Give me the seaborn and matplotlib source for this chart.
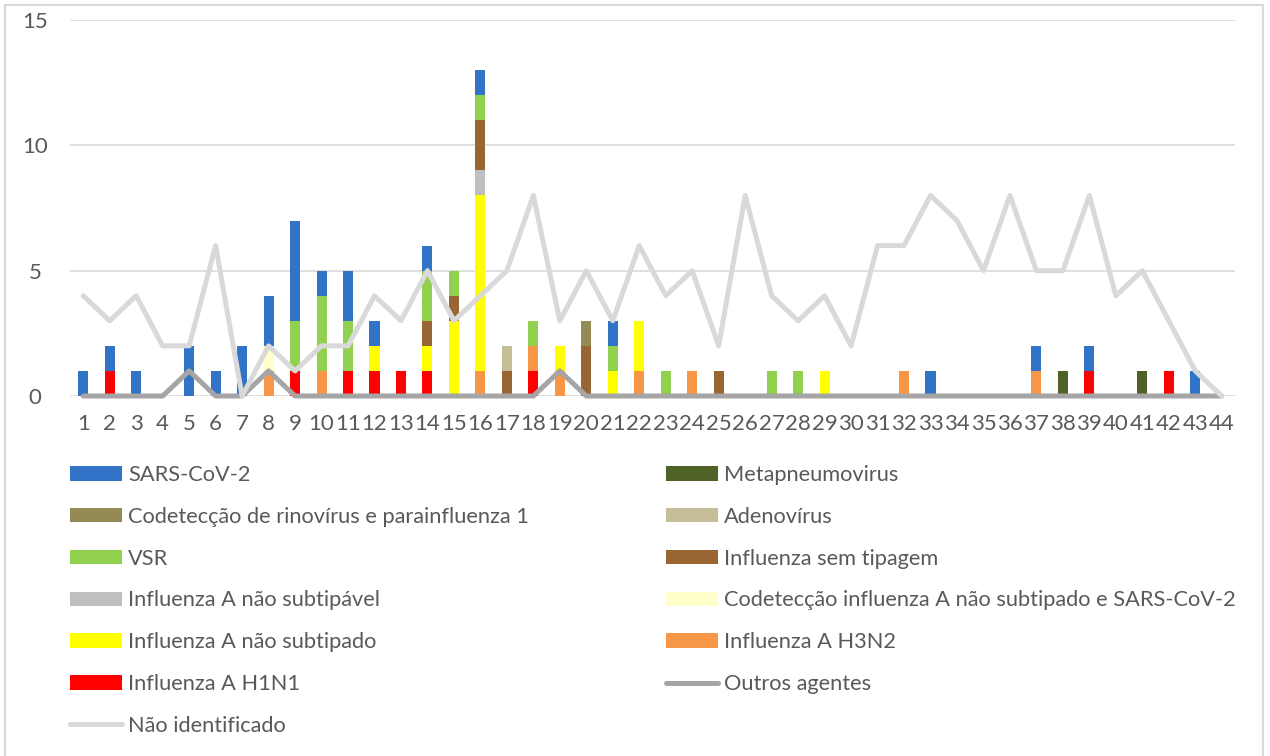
import matplotlib
matplotlib.use("Agg")
import matplotlib.pyplot as plt
from matplotlib.patches import Patch, Rectangle
from matplotlib.lines import Line2D
import numpy as np
import pandas as pd
import seaborn as sns

# Epidemiological weeks
weeks = list(range(1, 45))

# Weekly detections per agent (weeks 1..44)
sars_cov_2 = [1, 1, 1, 0, 2, 1, 2, 2, 4, 1, 2, 1, 0, 1, 0, 1, 0, 0, 0, 0, 1, 0,
              0, 0, 0, 0, 0, 0, 0, 0, 0, 0, 1, 0, 0, 0, 1, 0, 1, 0, 0, 0, 1, 0]
metapneumovirus = [0] * 37 + [1, 0, 0, 1, 0, 0, 0]
rino_parainfluenza = [0] * 19 + [1] + [0] * 24
adenovirus = [0] * 16 + [1] + [0] * 27
vsr = [0, 0, 0, 0, 0, 0, 0, 0, 2, 3, 2, 0, 0, 2, 1, 1, 0, 1, 0, 0, 1, 0,
       1, 0, 0, 0, 1, 1, 0, 0, 0, 0, 0, 0, 0, 0, 0, 0, 0, 0, 0, 0, 0, 0]
flu_sem_tipagem = [0, 0, 0, 0, 0, 0, 0, 0, 0, 0, 0, 0, 0, 1, 1, 2, 1, 0, 0, 2, 0, 0,
                   0, 0, 1, 0, 0, 0, 0, 0, 0, 0, 0, 0, 0, 0, 0, 0, 0, 0, 0, 0, 0, 0]
flu_a_nao_subtipavel = [0] * 15 + [1] + [0] * 28
codet_flu_sars = [0] * 7 + [1] + [0] * 36
flu_a_nao_subtipado = [0, 0, 0, 0, 0, 0, 0, 0, 0, 0, 0, 1, 0, 1, 3, 7, 0, 0, 1, 0, 1, 2,
                       0, 0, 0, 0, 0, 0, 1, 0, 0, 0, 0, 0, 0, 0, 0, 0, 0, 0, 0, 0, 0, 0]
flu_a_h3n2 = [0, 0, 0, 0, 0, 0, 0, 1, 0, 1, 0, 0, 0, 0, 0, 1, 0, 1, 1, 0, 0, 1,
              0, 1, 0, 0, 0, 0, 0, 0, 0, 1, 0, 0, 0, 0, 1, 0, 0, 0, 0, 0, 0, 0]
flu_a_h1n1 = [0, 1, 0, 0, 0, 0, 0, 0, 1, 0, 1, 1, 1, 1, 0, 0, 0, 1, 0, 0, 0, 0,
              0, 0, 0, 0, 0, 0, 0, 0, 0, 0, 0, 0, 0, 0, 0, 0, 1, 0, 0, 1, 0, 0]
outros_agentes = [0, 0, 0, 0, 1, 0, 0, 1, 0, 0, 0, 0, 0, 0, 0, 0, 0, 0, 1, 0, 0, 0,
                  0, 0, 0, 0, 0, 0, 0, 0, 0, 0, 0, 0, 0, 0, 0, 0, 0, 0, 0, 0, 0, 0]
nao_identificado = [4, 3, 4, 2, 2, 6, 0, 2, 1, 2, 2, 4, 3, 5, 3, 4, 5, 8, 3, 5, 3, 6,
                    4, 5, 2, 8, 4, 3, 4, 2, 6, 6, 8, 7, 5, 8, 5, 5, 8, 4, 5, 3, 1, 0]

# Stacked agents, listed top of the stack first
bar_names = ["SARS-CoV-2", "Metapneumovirus", "Codetecção de rinovírus e parainfluenza 1",
             "Adenovírus", "VSR", "Influenza sem tipagem", "Influenza A não subtipável",
             "Codetecção influenza A não subtipado e SARS-CoV-2", "Influenza A não subtipado",
             "Influenza A H3N2", "Influenza A H1N1"]
bar_values = [sars_cov_2, metapneumovirus, rino_parainfluenza, adenovirus, vsr,
              flu_sem_tipagem, flu_a_nao_subtipavel, codet_flu_sars, flu_a_nao_subtipado,
              flu_a_h3n2, flu_a_h1n1]
bar_colors = ["#3173C6", "#4F6228", "#948A54", "#C4BD97", "#92D050", "#996633",
              "#BFBFBF", "#FFFFCC", "#FFFF00", "#F79646", "#FF0000"]
color_outros = "#A5A5A5"
color_nao_id = "#D9D9D9"
text_color = "#595959"

rows = []
for name, vals in zip(bar_names, bar_values):
    for w, v in zip(weeks, vals):
        rows.append((w, name, v))
df = pd.DataFrame(rows, columns=["semana", "agente", "casos"])

sns.set_theme(style="white")
plt.rcParams["font.family"] = ["Lato", "DejaVu Sans"]
FS = 16
LFS = 15.7

W, H = 1270, 756
fig = plt.figure(figsize=(W / 100, H / 100), dpi=100)
ax = fig.add_axes([70 / W, 1 - 396 / H, (1235 - 70) / W, (396 - 20) / H])

sns.histplot(data=df, x="semana", weights="casos", hue="agente", hue_order=bar_names,
             palette=dict(zip(bar_names, bar_colors)), multiple="stack", discrete=True,
             shrink=0.38, alpha=1, linewidth=0, legend=False, ax=ax)

lw = 3.6
sns.lineplot(x=weeks, y=outros_agentes, color=color_outros, lw=lw, ax=ax,
             solid_capstyle="round", solid_joinstyle="round", clip_on=False, zorder=3)
sns.lineplot(x=weeks, y=nao_identificado, color=color_nao_id, lw=lw, ax=ax,
             solid_capstyle="round", solid_joinstyle="round", clip_on=False, zorder=4)

ax.set_xlim(0.5, 44.5)
ax.set_ylim(0, 15)
ax.set_xticks(weeks)
ax.set_xticklabels([str(w) for w in weeks])
ax.set_yticks([0, 5, 10, 15])
ax.set_xlabel("")
ax.set_ylabel("")
ax.yaxis.grid(True, color="#D9D9D9", lw=1.2)
ax.xaxis.grid(False)
ax.set_axisbelow(True)
for s in ax.spines.values():
    s.set_visible(False)
ax.tick_params(axis="x", length=0, pad=13, labelsize=FS, labelcolor=text_color)
ax.tick_params(axis="y", length=0, pad=25, labelsize=FS, labelcolor=text_color)
for t in ax.get_yticklabels():
    t.set_horizontalalignment("center")

# Legend in two columns
patch = dict(handlelength=2.38, handleheight=0.64, handletextpad=0.27, labelspacing=1.0,
             frameon=False, fontsize=LFS, labelcolor=text_color, borderpad=0, borderaxespad=0)
col1 = [(bar_names[i], bar_colors[i]) for i in (0, 2, 4, 6, 8, 10)]
col2 = [(bar_names[i], bar_colors[i]) for i in (1, 3, 5, 7, 9)]
h1 = [Patch(facecolor=c, edgecolor="none") for _, c in col1]
h1.append(Line2D([], [], color=color_nao_id, lw=lw, solid_capstyle="round"))
l1 = [n for n, _ in col1] + ["Não identificado"]
h2 = [Patch(facecolor=c, edgecolor="none") for _, c in col2]
h2.append(Line2D([], [], color=color_outros, lw=lw, solid_capstyle="round"))
l2 = [n for n, _ in col2] + ["Outros agentes"]
fig.legend(h1, l1, loc="upper left", bbox_to_anchor=(70 / W, 1 - 465 / H), **patch)
fig.legend(h2, l2, loc="upper left", bbox_to_anchor=(666 / W, 1 - 465 / H), **patch)

# Chart frame
fig.add_artist(Rectangle((5 / W, -0.01), (1263 - 5) / W, 1 - 5 / H + 0.01,
                         transform=fig.transFigure, fill=False, edgecolor="#D9D9D9", lw=1.5))

fig.savefig("out.png", dpi=100)
